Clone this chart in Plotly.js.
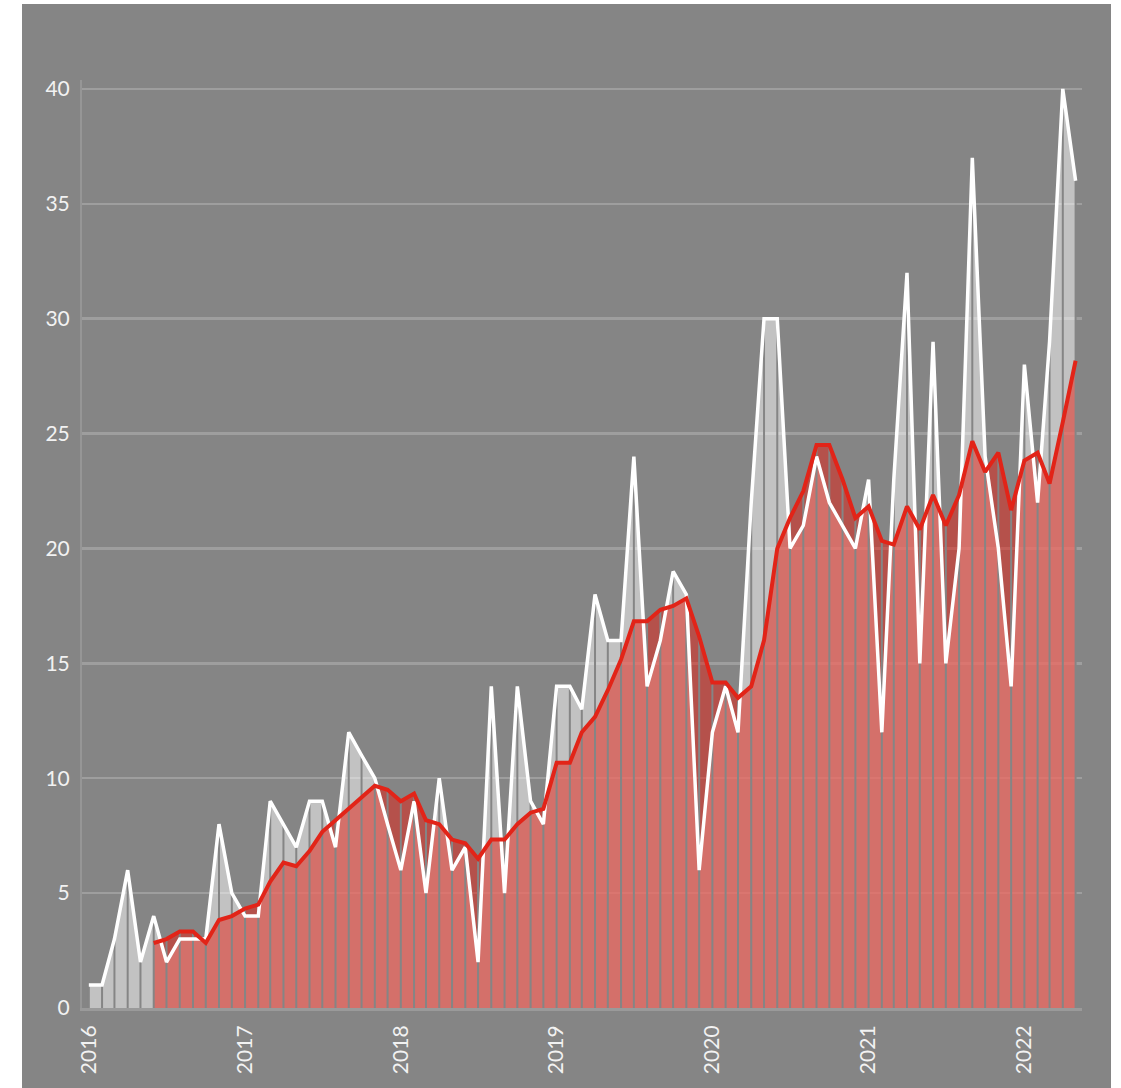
<!DOCTYPE html>
<html>
<head>
<meta charset="utf-8">
<script src="https://cdn.plot.ly/plotly-3.0.1.min.js"></script>
<style>
  html, body { margin: 0; padding: 0; background: #ffffff; }
  #chart { position: absolute; left: 22px; top: 4px; width: 1089px; height: 1084px; }
</style>
</head>
<body>
<div id="chart"></div>
<script>
// Monthly counts, Jan 2016 .. May 2022
const months = [
  "2016-01-01","2016-02-01","2016-03-01","2016-04-01","2016-05-01","2016-06-01","2016-07-01","2016-08-01","2016-09-01","2016-10-01","2016-11-01","2016-12-01",
  "2017-01-01","2017-02-01","2017-03-01","2017-04-01","2017-05-01","2017-06-01","2017-07-01","2017-08-01","2017-09-01","2017-10-01","2017-11-01","2017-12-01",
  "2018-01-01","2018-02-01","2018-03-01","2018-04-01","2018-05-01","2018-06-01","2018-07-01","2018-08-01","2018-09-01","2018-10-01","2018-11-01","2018-12-01",
  "2019-01-01","2019-02-01","2019-03-01","2019-04-01","2019-05-01","2019-06-01","2019-07-01","2019-08-01","2019-09-01","2019-10-01","2019-11-01","2019-12-01",
  "2020-01-01","2020-02-01","2020-03-01","2020-04-01","2020-05-01","2020-06-01","2020-07-01","2020-08-01","2020-09-01","2020-10-01","2020-11-01","2020-12-01",
  "2021-01-01","2021-02-01","2021-03-01","2021-04-01","2021-05-01","2021-06-01","2021-07-01","2021-08-01","2021-09-01","2021-10-01","2021-11-01","2021-12-01",
  "2022-01-01","2022-02-01","2022-03-01","2022-04-01","2022-05-01"
];

const monthly = [
  1, 1, 3, 6, 2, 4, 2, 3, 3, 3, 8, 5,
  4, 4, 9, 8, 7, 9, 9, 7, 12, 11, 10, 8,
  6, 9, 5, 10, 6, 7, 2, 14, 5, 14, 9, 8,
  14, 14, 13, 18, 16, 16, 24, 14, 16, 19, 18, 6,
  12, 14, 12, 22, 30, 30, 20, 21, 24, 22, 21, 20,
  23, 12, 23, 32, 15, 29, 15, 20, 37, 24, 20, 14,
  28, 22, 29, 40, 36
];

// Rolling (6-month) average
const rolling = [
  null, null, null, null, null, 2.83, 3.0, 3.33, 3.33, 2.83, 3.83, 4.0,
  4.33, 4.5, 5.5, 6.33, 6.17, 6.83, 7.67, 8.17, 8.67, 9.17, 9.67, 9.5,
  9.0, 9.33, 8.17, 8.0, 7.33, 7.17, 6.5, 7.33, 7.33, 8.0, 8.5, 8.67,
  10.67, 10.67, 12.0, 12.67, 13.83, 15.17, 16.83, 16.83, 17.33, 17.5, 17.83, 16.17,
  14.17, 14.17, 13.5, 14.0, 16.0, 20.0, 21.33, 22.5, 24.5, 24.5, 23.0, 21.33,
  21.83, 20.33, 20.17, 21.83, 20.83, 22.33, 21.0, 22.33, 24.67, 23.33, 24.17, 21.67,
  23.83, 24.17, 22.83, 25.5, 28.17
];

const BG = "#858585";

// month separators (background-coloured gaps in the filled area)
const sepX = [], sepY = [];
months.forEach((m, i) => {
  const top = Math.max(monthly[i], rolling[i] == null ? 0 : rolling[i]);
  sepX.push(m, m, null);
  sepY.push(0, top, null);
});

const traces = [
  { x: months, y: monthly, type: "scatter", mode: "none", fill: "tozeroy",
    fillcolor: "rgba(255,255,255,0.5)", hoverinfo: "skip", showlegend: false },
  { x: months, y: rolling, type: "scatter", mode: "none", fill: "tozeroy",
    fillcolor: "rgba(229,29,17,0.5)", hoverinfo: "skip", showlegend: false },
  { x: sepX, y: sepY, type: "scatter", mode: "lines",
    line: { color: BG, width: 2 }, hoverinfo: "skip", showlegend: false },
  { x: months, y: monthly, type: "scatter", mode: "lines",
    line: { color: "#ffffff", width: 3.5 }, showlegend: false },
  { x: months, y: rolling, type: "scatter", mode: "lines",
    line: { color: "rgb(226,36,24)", width: 4 }, showlegend: false }
];

const layout = {
  width: 1089, height: 1084,
  paper_bgcolor: BG, plot_bgcolor: BG,
  margin: { l: 60, r: 29, t: 76, b: 80 },
  font: { family: "Lato, 'Open Sans', sans-serif", size: 21, color: "#f2f2f2" },
  showlegend: false,
  xaxis: {
    type: "date",
    range: ["2015-12-16", "2022-05-16"],
    tick0: "2016-01-01", dtick: "M12", tickformat: "%Y",
    tickangle: -90,
    showgrid: false, zeroline: false,
    showline: true, linecolor: "#9a9a9a", linewidth: 3,
    ticks: "outside", ticklen: 6, tickcolor: "rgba(0,0,0,0)",
    tickfont: { family: "Lato, 'Open Sans', sans-serif", size: 21, color: "#f2f2f2" }
  },
  yaxis: {
    range: [0, 40.39],
    tick0: 0, dtick: 5,
    showgrid: true, gridcolor: "#9e9e9e", gridwidth: 2.5,
    zeroline: false,
    showline: true, linecolor: "#969696", linewidth: 2,
    ticks: "outside", ticklen: 6, tickcolor: "rgba(0,0,0,0)",
    tickfont: { family: "Lato, 'Open Sans', sans-serif", size: 21, color: "#f2f2f2" }
  }
};

Plotly.newPlot("chart", traces, layout, { displayModeBar: false, staticPlot: true });
</script>
</body>
</html>
